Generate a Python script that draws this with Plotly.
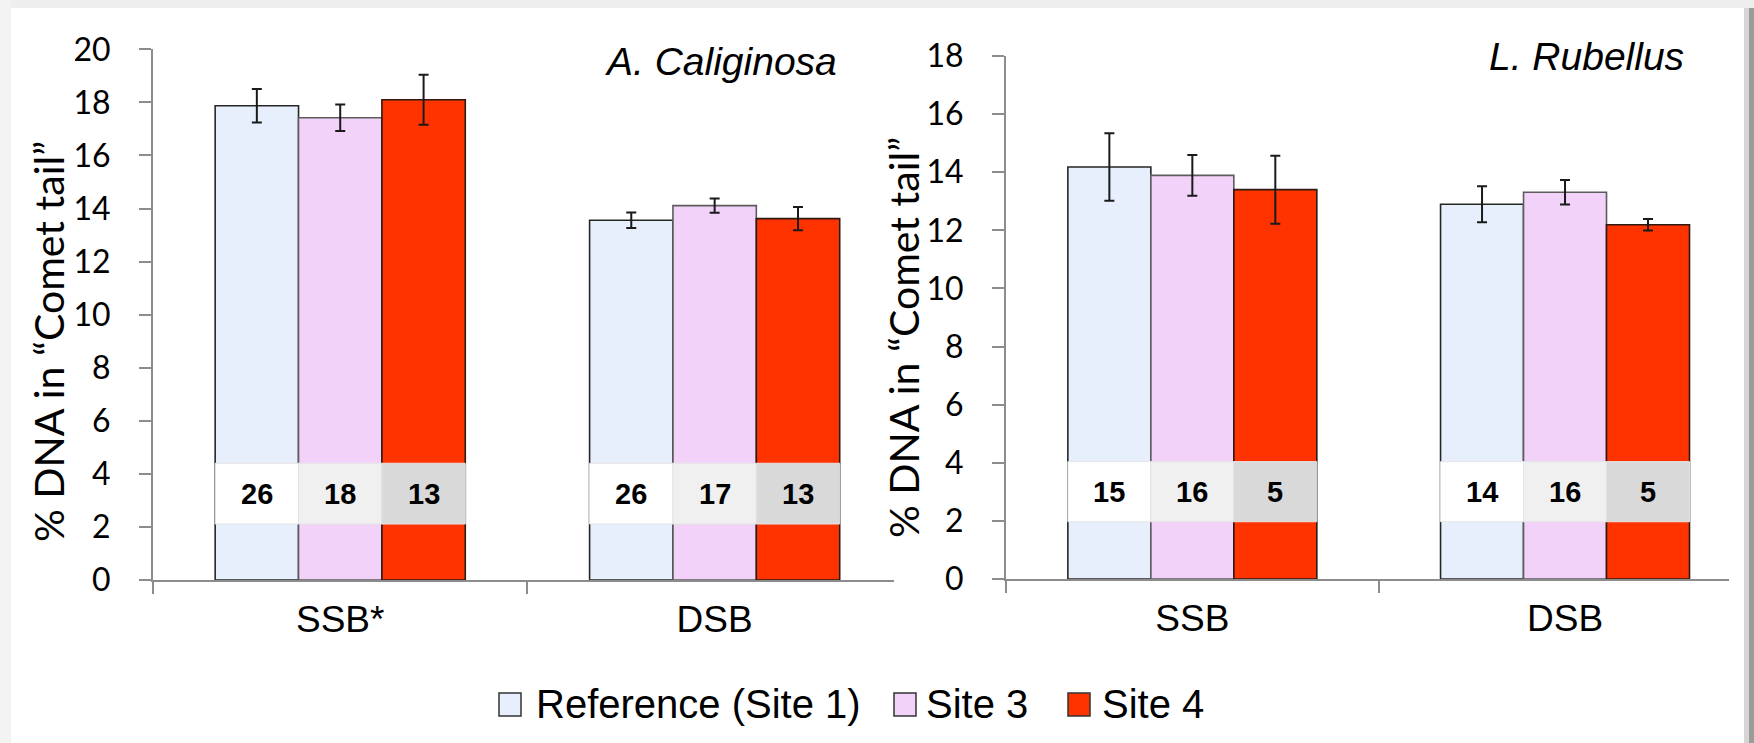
import plotly.graph_objects as go

W, H = 1754, 743

# ---------------- data ----------------
series_names = ["Reference (Site 1)", "Site 3", "Site 4"]
series_colors = ["#e8effc", "#f3d2f9", "#ff3300"]
series_lines = ["#262626", "#5c5c5c", "#2e1a14"]

ac_categories = ["SSB*", "DSB"]
lr_categories = ["SSB", "DSB"]

# A. Caliginosa: mean % DNA in comet tail, error, n
ac_ref = [17.87, 13.56]
ac_site3 = [17.42, 14.11]
ac_site4 = [18.10, 13.62]
ac_ref_err = [0.63, 0.29]
ac_site3_err = [0.50, 0.27]
ac_site4_err = [0.94, 0.44]
ac_ref_n = [26, 26]
ac_site3_n = [18, 17]
ac_site4_n = [13, 13]

# L. Rubellus
lr_ref = [14.18, 12.90]
lr_site3 = [13.89, 13.31]
lr_site4 = [13.40, 12.19]
lr_ref_err = [1.16, 0.62]
lr_site3_err = [0.70, 0.42]
lr_site4_err = [1.17, 0.20]
lr_ref_n = [15, 14]
lr_site3_n = [16, 16]
lr_site4_n = [5, 5]

y_ticks_ac = [0, 2, 4, 6, 8, 10, 12, 14, 16, 18, 20]
y_ticks_lr = [0, 2, 4, 6, 8, 10, 12, 14, 16, 18]

# ---------------- layout helpers ----------------
def px_x(p):
    return p / W


def px_y(p):
    return 1 - p / H


BARGAP = 0.332
BAR_W = (1 - BARGAP) / 3
AXIS_COLOR = "#8c8c8c"
TICK_FONT = dict(family="Lato, Calibri, sans-serif", size=32, color="#000000")
CAT_FONT = dict(family="Liberation Sans, Arial, sans-serif", size=37, color="#000000")
TITLE_FONT = dict(family="Lato, Calibri, sans-serif", size=41, color="#000000")
CELL_COLORS = ["#ffffff", "#f0f0f0", "#d9d9d9"]

fig = go.Figure()

panels = [
    dict(cats=ac_categories, means=[ac_ref, ac_site3, ac_site4],
         errs=[ac_ref_err, ac_site3_err, ac_site4_err],
         ns=[ac_ref_n, ac_site3_n, ac_site4_n],
         xa="x", ya="y", band=(2.11, 4.40)),
    dict(cats=lr_categories, means=[lr_ref, lr_site3, lr_site4],
         errs=[lr_ref_err, lr_site3_err, lr_site4_err],
         ns=[lr_ref_n, lr_site3_n, lr_site4_n],
         xa="x2", ya="y2", band=(1.97, 4.04)),
]

shapes = []
annotations = []

for p in panels:
    for i, name in enumerate(series_names):
        fig.add_trace(go.Bar(
            x=p["cats"], y=p["means"][i], name=name,
            xaxis=p["xa"], yaxis=p["ya"],
            marker=dict(color=series_colors[i],
                        line=dict(color=series_lines[i], width=1.6)),
            error_y=dict(type="data", array=p["errs"][i], visible=True,
                         color="#1a1a1a", thickness=2, width=5),
            showlegend=False,
        ))
    # sample-size table band over the bars
    lo, hi = p["band"]
    for c in range(len(p["cats"])):
        for i in range(3):
            cx = c + (i - 1) * BAR_W
            shapes.append(dict(
                type="rect", xref=p["xa"], yref=p["ya"], layer="above",
                x0=cx - BAR_W / 2, x1=cx + BAR_W / 2, y0=lo, y1=hi,
                fillcolor=CELL_COLORS[i], line=dict(color="#e4e4e4", width=1),
            ))
            annotations.append(dict(
                xref=p["xa"], yref=p["ya"], x=cx, y=(lo + hi) / 2,
                text=str(p["ns"][i][c]), showarrow=False,
                font=dict(family="Liberation Sans, Arial, sans-serif", size=29,
                          color="#000000", weight="bold"),
                xanchor="center", yanchor="middle",
            ))

axis_common = dict(
    showline=True, linecolor=AXIS_COLOR, linewidth=2,
    ticks="outside", ticklen=12, tickwidth=2, tickcolor=AXIS_COLOR,
    showgrid=False, zeroline=False, automargin=False,
)

fig.update_layout(
    width=W, height=H, autosize=False,
    margin=dict(l=0, r=0, t=0, b=0, pad=0, autoexpand=False),
    paper_bgcolor="#ffffff", plot_bgcolor="rgba(0,0,0,0)",
    showlegend=False,
    barmode="group", bargap=BARGAP, bargroupgap=0,
    xaxis=dict(domain=[px_x(153), px_x(894)], anchor="y",
               range=[-0.5, 1.479], tickson="boundaries",
               tickfont=CAT_FONT, ticklabelstandoff=6, **axis_common),
    yaxis=dict(domain=[1 - 580 / H, 1 - 49.3 / H], anchor="x",
               range=[0, 20], tickvals=y_ticks_ac,
               tickfont=TICK_FONT, ticklabelstandoff=22, **axis_common),
    xaxis2=dict(domain=[px_x(1006), px_x(1729)], anchor="y2",
                range=[-0.5, 1.44], tickson="boundaries",
                tickfont=CAT_FONT, ticklabelstandoff=6, **axis_common),
    yaxis2=dict(domain=[1 - 579 / H, 1 - 56 / H], anchor="x2",
                range=[0, 18], tickvals=y_ticks_lr,
                tickfont=TICK_FONT, ticklabelstandoff=22, **axis_common),
)

# y-axis titles
for xc, yc in [(49, 342), (904, 337)]:
    annotations.append(dict(
        xref="paper", yref="paper", x=px_x(xc), y=px_y(yc),
        text="% DNA in “Comet tail”", textangle=-90, showarrow=False,
        font=TITLE_FONT, xanchor="center", yanchor="middle",
    ))

# species titles
for txt, xr, yc in [("A. Caliginosa", 839, 61), ("L. Rubellus", 1686, 57)]:
    annotations.append(dict(
        xref="paper", yref="paper", x=px_x(xr), y=px_y(yc),
        text=f"<i>{txt}</i>", showarrow=False,
        font=dict(family="Liberation Sans, Arial, sans-serif", size=39, color="#000000"),
        xanchor="right", yanchor="middle",
    ))

# custom legend
legend_sym_x = [499, 894, 1068]
legend_txt_x = [534, 924, 1100]
for i, name in enumerate(series_names):
    shapes.append(dict(
        type="rect", xref="paper", yref="paper", layer="above",
        x0=px_x(legend_sym_x[i]), x1=px_x(legend_sym_x[i] + 22),
        y0=px_y(716), y1=px_y(693),
        fillcolor=series_colors[i], line=dict(color="#333333", width=1.5),
    ))
    annotations.append(dict(
        xref="paper", yref="paper", x=px_x(legend_txt_x[i]), y=px_y(704),
        text=name, showarrow=False,
        font=dict(family="Liberation Sans, Arial, sans-serif", size=40, color="#000000"),
        xanchor="left", yanchor="middle",
    ))

# page frame (screenshot border)
shapes += [
    dict(type="rect", xref="paper", yref="paper", x0=0, x1=1, y0=px_y(8), y1=1,
         fillcolor="#eeeeee", line=dict(width=0), layer="above"),
    dict(type="rect", xref="paper", yref="paper", x0=0, x1=px_x(11), y0=0, y1=1,
         fillcolor="#f3f3f3", line=dict(width=0), layer="above"),
    dict(type="rect", xref="paper", yref="paper", x0=px_x(1744), x1=px_x(1749), y0=0, y1=px_y(8),
         fillcolor="#d6d6d6", line=dict(width=0), layer="above"),
    dict(type="rect", xref="paper", yref="paper", x0=px_x(1749), x1=1, y0=0, y1=px_y(8),
         fillcolor="#9c9c9c", line=dict(width=0), layer="above"),
]

fig.update_layout(shapes=shapes, annotations=annotations)

fig.write_html("out.html")
